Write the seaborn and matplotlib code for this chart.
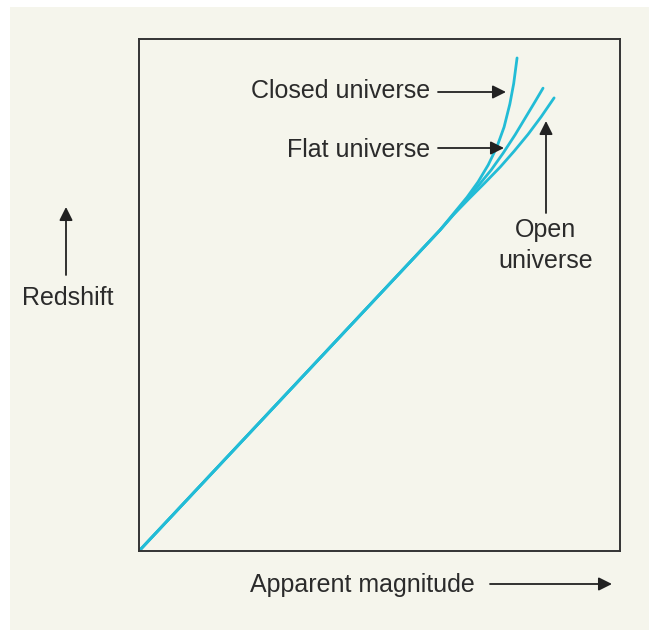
import matplotlib
matplotlib.use("Agg")
import matplotlib.pyplot as plt
from matplotlib.patches import Rectangle, FancyArrowPatch
import pandas as pd
import seaborn as sns

# Apparent magnitude (x) and redshift (y), both on a 0..1 schematic scale
closed_mag = [0.0, 0.626, 0.653, 0.682, 0.705, 0.726, 0.744, 0.759, 0.771, 0.779, 0.786]
closed_z = [0.0, 0.627, 0.658, 0.691, 0.721, 0.754, 0.789, 0.828, 0.873, 0.913, 0.963]

flat_mag = [0.0, 0.626, 0.651, 0.678, 0.705, 0.732, 0.757, 0.782, 0.807, 0.823, 0.840]
flat_z = [0.0, 0.627, 0.654, 0.684, 0.713, 0.744, 0.777, 0.813, 0.852, 0.877, 0.904]

open_mag = [0.0, 0.626, 0.653, 0.686, 0.719, 0.751, 0.780, 0.809, 0.836, 0.863]
open_z = [0.0, 0.627, 0.656, 0.688, 0.719, 0.750, 0.781, 0.814, 0.848, 0.885]

models = ["Closed universe", "Flat universe", "Open universe"]

W, H = 649, 634
CREAM = "#f5f5ec"
CYAN = "#22bcd6"
INK = "#2b2b2b"

sns.set_style("white")
plt.rcParams["font.family"] = ["Liberation Sans", "DejaVu Sans"]

df = pd.concat([
    pd.DataFrame({"magnitude": closed_mag, "redshift": closed_z, "model": models[0]}),
    pd.DataFrame({"magnitude": flat_mag, "redshift": flat_z, "model": models[1]}),
    pd.DataFrame({"magnitude": open_mag, "redshift": open_z, "model": models[2]}),
], ignore_index=True)

fig = plt.figure(figsize=(W / 100, H / 100), dpi=100)
fig.patch.set_facecolor("white")


def fx(px):
    return px / W


def fy(py):
    return 1 - py / H


# page tone behind the diagram
fig.patches.append(Rectangle((fx(10), fy(630)), fx(639), 623 / H,
                             transform=fig.transFigure, facecolor=CREAM,
                             edgecolor="none", zorder=-10))

ax = fig.add_axes([fx(139), fy(551), fx(620) - fx(139), (551 - 39) / H])
ax.set_facecolor(CREAM)

sns.lineplot(data=df, x="magnitude", y="redshift", hue="model",
             palette={m: CYAN for m in models}, sort=False, estimator=None,
             linewidth=2.0, legend=False, ax=ax)
for ln in ax.get_lines():
    ln.set_solid_joinstyle("round")
    ln.set_solid_capstyle("round")

ax.set_xlim(0, 1)
ax.set_ylim(0, 1)
ax.set_xticks([])
ax.set_yticks([])
ax.set_xlabel("")
ax.set_ylabel("")
for s in ax.spines.values():
    s.set_visible(True)
    s.set_color("#333333")
    s.set_linewidth(1.4)

txt = dict(fontsize=18, color=INK, transform=fig.transFigure)
arrow = dict(arrowstyle="-|>", color="#222222", lw=1.3, mutation_scale=20,
             shrinkA=0, shrinkB=0)


def pointer(x0, y0, x1, y1):
    fig.add_artist(FancyArrowPatch((fx(x0), fy(y0)), (fx(x1), fy(y1)),
                                   transform=fig.transFigure, **arrow))


fig.text(fx(430), fy(98), "Closed universe", ha="right", va="baseline", **txt)
pointer(438, 92, 506, 92)

fig.text(fx(430), fy(157), "Flat universe", ha="right", va="baseline", **txt)
pointer(438, 148, 504, 148)

fig.text(fx(545), fy(237), "Open", ha="center", va="baseline", **txt)
fig.text(fx(546), fy(268), "universe", ha="center", va="baseline", **txt)
pointer(546, 213, 546, 121)

fig.text(fx(68), fy(305), "Redshift", ha="center", va="baseline", **txt)
pointer(66, 275, 66, 207)

fig.text(fx(362), fy(592), "Apparent magnitude", ha="center", va="baseline", **txt)
pointer(490, 584, 612, 584)

fig.savefig("out.png", dpi=100, facecolor=fig.get_facecolor())
